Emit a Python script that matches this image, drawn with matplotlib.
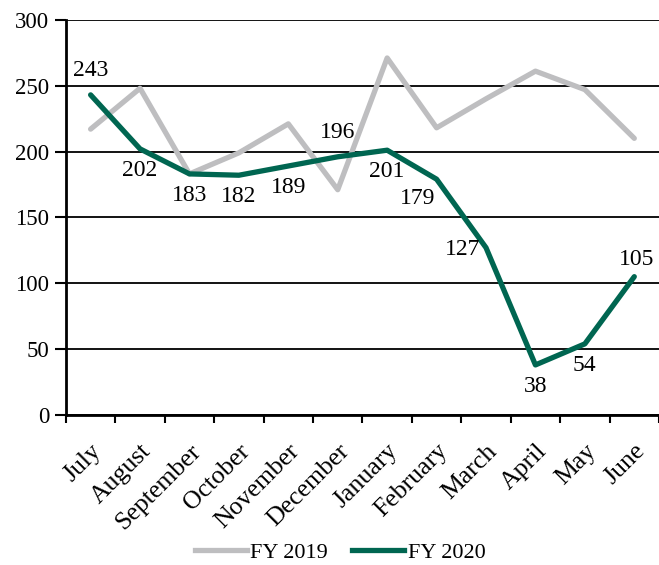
import matplotlib.pyplot as plt
from matplotlib.lines import Line2D

# ======= Data =======
months = ["July", "August", "September", "October", "November", "December",
          "January", "February", "March", "April", "May", "June"]
fy2019 = [217, 248, 183, 199, 221, 171, 271, 218, 240, 261, 247, 210]
fy2020 = [243, 202, 183, 182, 189, 196, 201, 179, 127, 38, 54, 105]
# where each FY 2020 label sits relative to its point
label_pos = ["above", "below", "below", "below", "below", "above",
             "below", "left", "left_mid", "below", "below", "above_near"]

plt.rcParams["font.family"] = ["Liberation Serif", "DejaVu Serif"]

gray = "#BEBEC0"
green = "#006651"

fig = plt.figure(figsize=(6.59, 5.65), dpi=100)
ax = fig.add_axes([0.100, 0.2655, 0.900, 0.6995])

x = list(range(len(months)))
ax.plot(x, fy2019, color=gray, lw=3.8, solid_capstyle="round", zorder=3)
ax.plot(x, fy2020, color=green, lw=3.8, solid_capstyle="round", zorder=4)

# ======= Data labels =======
offsets = {
    "above": (0, 10, "center", "bottom"),
    "above_near": (2, 5, "center", "bottom"),
    "below": (0, -8, "center", "top"),
    "left": (-1, -6, "right", "top"),
    "left_mid": (-4, -1, "right", "center"),
}
for xi, v, p in zip(x, fy2020, label_pos):
    dx, dy, ha, va = offsets[p]
    ax.annotate(str(v), (xi, v), xytext=(dx, dy), textcoords="offset points",
                ha=ha, va=va, fontsize=17, zorder=5)

# ======= Axes styling =======
ax.set_ylim(0, 300)
ax.set_xlim(-0.5, 11.5)
ax.set_yticks(range(0, 301, 50))
ax.yaxis.grid(True, color="black", lw=1.3)
ax.set_axisbelow(True)
for s in ["top", "right"]:
    ax.spines[s].set_visible(False)
ax.spines["left"].set_linewidth(2)
ax.spines["bottom"].set_linewidth(2)

ax.set_xticks([i - 0.5 for i in range(13)])
ax.set_xticklabels([])
ax.set_xticks(x, minor=True)
ax.set_xticklabels(months, minor=True, rotation=45, ha="right",
                   rotation_mode="anchor", fontsize=18.5)
ax.tick_params(axis="x", which="major", length=6, width=1.5, direction="out")
ax.tick_params(axis="x", which="minor", length=0, pad=18)
ax.tick_params(axis="y", length=8, width=1.5, labelsize=16.5, pad=4)

handles = [Line2D([], [], color=gray, lw=3.8),
           Line2D([], [], color=green, lw=3.8)]
fig.legend(handles, ["FY 2019", "FY 2020"], loc="center",
           bbox_to_anchor=(0.516, 0.022), ncol=2, frameon=False, fontsize=16,
           handlelength=2.35, handletextpad=0.15, columnspacing=1.1,
           borderpad=0)

plt.savefig("out.png", dpi=100)
plt.close()
